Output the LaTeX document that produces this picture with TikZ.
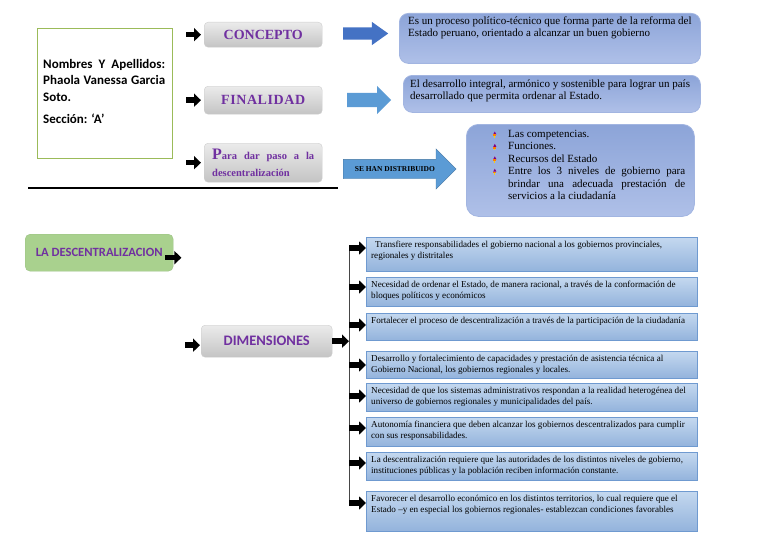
\documentclass[tikz,border=0pt]{standalone}
\usepackage{fontspec}
\setmainfont{Liberation Serif}
\setsansfont{Carlito}
\usetikzlibrary{arrows.meta, shapes.arrows, positioning}

\definecolor{morado}{HTML}{7030A0}
\definecolor{grisA}{HTML}{EBEBEB}
\definecolor{grisB}{HTML}{C4C4C4}
\definecolor{azulA}{HTML}{8CA4D8}
\definecolor{azulB}{HTML}{AFC0E8}
\definecolor{azulL}{HTML}{A2B5E1}
\definecolor{dimA}{HTML}{C4D8EF}
\definecolor{dimB}{HTML}{93B3DC}
\definecolor{dimL}{HTML}{6F9AD0}
\definecolor{verde}{HTML}{A9D18E}
\definecolor{verdeL}{HTML}{9BBB59}
\definecolor{flechaA}{HTML}{4472C4}
\definecolor{flechaB}{HTML}{5B9BD5}

\tikzset{
  titulo/.style={rounded corners=4pt, top color=grisA, bottom color=grisB, draw=grisB!85, text=morado, anchor=north west, inner sep=0pt},
  nube/.style={rounded corners=9pt, top color=azulA, bottom color=azulB, draw=azulL, line width=0.8pt, anchor=north west},
  nubetxt/.style={anchor=north west, inner sep=0pt, align=left, font=\fontsize{11}{12}\selectfont},
  dimbox/.style={top color=dimA, bottom color=dimB, draw=dimL, line width=0.8pt, anchor=north west, minimum width=331},
  dimtxt/.style={anchor=north west, inner sep=0pt, align=left, font=\fontsize{9.1}{11}\selectfont},
  negra/.style={-{Triangle[length=7pt,width=13pt]}, line width=5.5pt},
  azul/.style={single arrow, inner xsep=0pt, anchor=west},
}

% viñeta de la lista
\newcommand{\vineta}{\tikz[baseline=0pt]{%
  \fill[violet] (0pt,3pt) -- (1.6pt,6pt) -- (3.2pt,3pt) -- cycle;
  \fill[orange] (0pt,1.2pt) rectangle (3.2pt,3pt);
  \fill[yellow!70!orange] (1pt,-0.6pt) rectangle (2.2pt,1.2pt);}}

\begin{document}
\begin{tikzpicture}[x=1pt, y=-1pt]
\useasboundingbox (0,0) rectangle (768,543);

% datos del alumno
\node[draw=verdeL, line width=0.9pt, minimum width=135, minimum height=130, anchor=north west] (datos) at (37,28) {};
\node[anchor=north west, text width=122, align=justify, inner sep=0pt,
      font=\sffamily\bfseries\fontsize{13}{16.5}\selectfont] (nombre) at (43,59)
  {Nombres Y Apellidos:\linebreak Phaola Vanessa Garcia\linebreak Soto.\par\vspace{6pt}Sección: ‘A’};

% titulos grises
\node[titulo, minimum width=118, minimum height=25, font=\bfseries\fontsize{14}{14}\selectfont] (concepto) at (204,22) {CONCEPTO};
\node[titulo, minimum width=118, minimum height=28, font=\bfseries\fontsize{14}{14}\selectfont] (finalidad) at (204,86)
  {F\kern.6pt I\kern.6pt N\kern.6pt A\kern.6pt L\kern.6pt I\kern.6pt D\kern.6pt A\kern.6pt D};
\node[titulo, minimum width=118, minimum height=39, text width=102, align=left,
      font=\bfseries\fontsize{10.5}{17}\selectfont] (paso) at (204,143)
  {\hbox to 102pt{{\fontsize{16}{16}\selectfont P}ara\hfill dar\hfill paso\hfill a\hfill la}\\descentralización};

\foreach \n in {concepto, finalidad, paso}
  \draw[negra] ([xshift=-18pt]\n.west) -- ([xshift=-3pt]\n.west);

% flechas azules
\node[azul, fill=flechaA, inner ysep=6pt, minimum height=45, minimum width=23, single arrow head extend=5.5pt, single arrow tip angle=71] (fconcepto) at (343,33.5) {};
\node[azul, fill=flechaB, inner ysep=7pt, minimum height=44, minimum width=28, single arrow head extend=7pt, single arrow tip angle=90] (ffinalidad) at (347,100) {};
\node[azul, fill=flechaB, draw=flechaB!75!black, inner ysep=7pt, text height=5pt, text depth=0pt, minimum height=113, minimum width=40,
      single arrow head extend=10.5pt, single arrow tip angle=90, font=\bfseries\fontsize{7.5}{7.5}\selectfont] (reparto) at (343,169) {SE HAN DISTRIBUIDO};

% cuadros de texto
\node[nube, minimum width=301, minimum height=50] (defi) at (399,13) {};
\node[nubetxt] (defitxt) at (408,17) {Es un proceso político-técnico que forma parte de la reforma del\\Estado peruano, orientado a alcanzar un buen gobierno};
\node[nube, minimum width=297, minimum height=37] (fin) at (403,75) {};
\node[nubetxt] (fintxt) at (410,80) {El desarrollo integral, armónico y sostenible para lograr un país\\desarrollado que permita ordenar al Estado.};
\node[nube, rounded corners=12pt, minimum width=228, minimum height=92] (lista) at (466,124) {};
\node[anchor=north west, inner sep=0pt, text width=192, align=justify, font=\fontsize{11}{12.4}\selectfont] (listatxt) at (493,130)
  {\hyphenpenalty=10000\exhyphenpenalty=10000
   \hangindent=15pt\hangafter=1\makebox[15pt][l]{\vineta}Las competencias.\par
   \hangindent=15pt\hangafter=1\makebox[15pt][l]{\vineta}Funciones.\par
   \hangindent=15pt\hangafter=1\makebox[15pt][l]{\vineta}Recursos del Estado\par
   \hangindent=15pt\hangafter=1\makebox[15pt][l]{\vineta}Entre los 3 niveles de gobierno para brindar una adecuada prestación de servicios a la ciudadanía\par};

\draw[line width=1.1pt] (28,188) -- (338,188);

% dimensiones
\node[rounded corners=5pt, fill=verde, draw=verde!92!black, minimum width=148, minimum height=37, anchor=north west,
      text=morado, font=\sffamily\bfseries\fontsize{12.6}{12.6}\selectfont] (desc) at (25,234) {LA DESCENTRALIZACION};
\draw[negra] ([xshift=-8pt,yshift=-5pt]desc.east) -- ([xshift=8pt,yshift=-5pt]desc.east);

\node[titulo, minimum width=131, minimum height=32, font=\sffamily\bfseries\fontsize{14.5}{14.5}\selectfont] (dimensiones) at (201,325) {DIMENSIONES};
\draw[negra] ([xshift=-16pt,yshift=-4pt]dimensiones.west) -- ([xshift=-1pt,yshift=-4pt]dimensiones.west);

\coordinate (lomo) at (349,247);
\coordinate (lomofin) at (349,503);
\draw[gray!55!black, line width=0.8pt] (lomo) -- (lomofin);
\draw[negra] (dimensiones.east) -- (dimensiones.east -| lomo);

\foreach \i/\y/\h/\ay/\txt in {
  1/237/34/248/{\hspace{4pt}Transfiere responsabilidades el gobierno nacional a los gobiernos provinciales,\\regionales y distritales},
  2/277/29/287/{Necesidad de ordenar el Estado, de manera racional, a través de la conformación de\\bloques políticos y económicos},
  3/313/27/325/{Fortalecer el proceso de descentralización a través de la participación de la ciudadanía},
  4/351/27/365/{Desarrollo y fortalecimiento de capacidades y prestación de asistencia técnica al\\Gobierno Nacional, los gobiernos regionales y locales.},
  5/383/28/396/{Necesidad de que los sistemas administrativos respondan a la realidad heterogénea del\\universo de gobiernos regionales y municipalidades del país.},
  6/417/29/428/{Autonomía financiera que deben alcanzar los gobiernos descentralizados para cumplir\\con sus responsabilidades.},
  7/452/28/463/{La descentralización requiere que las autoridades de los distintos niveles de gobierno,\\instituciones públicas y la población reciben información constante.},
  8/491/40/503/{Favorecer el desarrollo económico en los distintos territorios, lo cual requiere que el\\Estado –y en especial los gobiernos regionales- establezcan condiciones favorables}} {
  \node[dimbox, minimum height=\h] (dim\i) at (366,\y) {};
  \node[dimtxt] (dimtxt\i) at ([xshift=5pt,yshift=-4pt]dim\i.north west) {\txt};
  \coordinate (t\i) at (349,\ay);
  \draw[negra] (t\i) -- (t\i -| dim\i.west);
}
\end{tikzpicture}
\end{document}
